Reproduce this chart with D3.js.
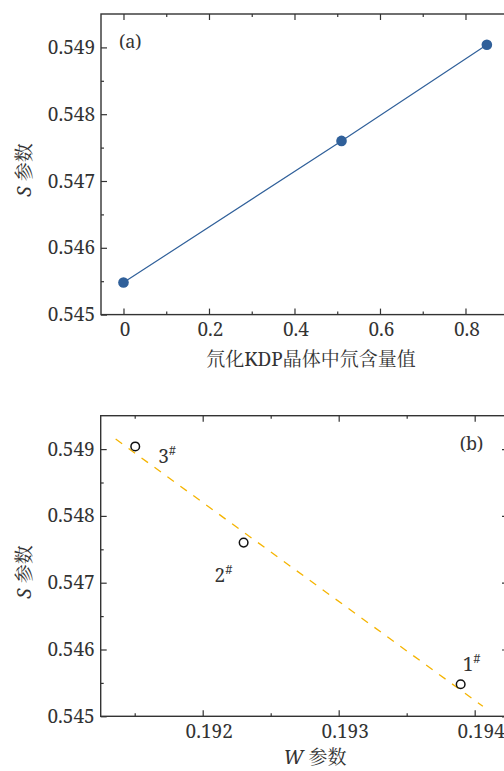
<!DOCTYPE html>
<html>
<head>
<meta charset="utf-8">
<script src="https://cdn.jsdelivr.net/npm/d3@7"></script>
<style>
  body { margin: 0; background: #fff; }
  svg { display: block; }
  text { fill: #333; font-family: "Noto Serif", "Noto Serif CJK SC", serif; }
  .cjk { font-family: "Noto Serif CJK SC", "Noto Sans CJK SC", serif; }
</style>
</head>
<body>
<svg id="chart" width="504" height="771"></svg>
<script>
// panel (a): deuterium content vs S parameter
var contentVals = [0, 0.51, 0.85];
var sVals = [0.54548, 0.54760, 0.54904];

// panel (b): W parameter vs S parameter, sample labels
var wVals = [0.193897, 0.192301, 0.191504];
var sampleNames = ["1", "2", "3"];

// fitted line end points in panel (b)
var fitW = [0.19136, 0.19406];
var fitS = [0.54915, 0.54515];

var yTicks = [0.545, 0.546, 0.547, 0.548, 0.549];
var yMinor = [0.5455, 0.5465, 0.5475, 0.5485];
var xTicksA = [0, 0.2, 0.4, 0.6, 0.8];
var xMinorA = [0.1, 0.3, 0.5, 0.7, 0.9];
var xTicksB = [0.192, 0.193, 0.194];
var xMinorB = [0.1915, 0.1925, 0.1935];

var svg = d3.select("#chart");
var axisColor = "#333";
var serif = "'Noto Serif', serif";

// draws frame + inward ticks for one panel
function frame(g, x, y, xMajor, xMinor, yMajor, yMinor, xFmt, xdx) {
  var w = x.range()[1] - x.range()[0],
      h = y.range()[0] - y.range()[1];

  // bottom
  g.append("g").attr("transform", "translate(0," + h + ")")
    .call(d3.axisBottom(x).tickValues(xMajor).tickSizeInner(-6).tickSizeOuter(0).tickPadding(8).tickFormat(xFmt))
    .call(function(a) { a.selectAll("text").attr("dx", xdx); });
  g.append("g").attr("transform", "translate(0," + h + ")")
    .call(d3.axisBottom(x).tickValues(xMinor).tickSizeInner(-3).tickSizeOuter(0).tickFormat(""));
  // top
  g.append("g")
    .call(d3.axisTop(x).tickValues(xMajor).tickSizeInner(-6).tickSizeOuter(0).tickFormat(""));
  g.append("g")
    .call(d3.axisTop(x).tickValues(xMinor).tickSizeInner(-3).tickSizeOuter(0).tickFormat(""));
  // left
  g.append("g")
    .call(d3.axisLeft(y).tickValues(yMajor).tickSizeInner(-6).tickSizeOuter(0).tickPadding(6).tickFormat(d3.format(".3f")));
  g.append("g")
    .call(d3.axisLeft(y).tickValues(yMinor).tickSizeInner(-3).tickSizeOuter(0).tickFormat(""));
  // right
  g.append("g").attr("transform", "translate(" + w + ",0)")
    .call(d3.axisRight(y).tickValues(yMajor).tickSizeInner(-6).tickSizeOuter(0).tickFormat(""));
  g.append("g").attr("transform", "translate(" + w + ",0)")
    .call(d3.axisRight(y).tickValues(yMinor).tickSizeInner(-3).tickSizeOuter(0).tickFormat(""));

  g.selectAll(".domain").remove();
  g.selectAll("g").attr("font-family", serif);
  g.selectAll(".tick line").attr("stroke", axisColor).attr("stroke-width", 1.2);
  g.selectAll(".tick text").attr("font-size", 19).attr("fill", "#444")
    .style("font-family", serif);

  g.append("rect")
    .attr("width", w).attr("height", h)
    .attr("fill", "none").attr("stroke", axisColor).attr("stroke-width", 1.4);
}

/*************** panel (a) ***************/
var xA = d3.scaleLinear().domain([-0.0526, 0.9474]).range([0, 427.5]);
var yA = d3.scaleLinear().domain([0.545, 0.5495]).range([300.6, 0]);
var gA = svg.append("g").attr("transform", "translate(101,14)");

frame(gA, xA, yA, xTicksA, xMinorA, yTicks, yMinor,
      function(d) { return d === 0 ? "0" : d3.format(".1f")(d); }, 1);

var ptsA = contentVals.map(function(v, i) { return [v, sVals[i]]; });
gA.append("path")
  .datum(ptsA)
  .attr("fill", "none")
  .attr("stroke", "#30609a")
  .attr("stroke-width", 1.2)
  .attr("d", d3.line().x(function(d) { return xA(d[0]); }).y(function(d) { return yA(d[1]); }));
gA.selectAll("circle.pt").data(ptsA).enter().append("circle")
  .attr("class", "pt")
  .attr("cx", function(d) { return xA(d[0]); })
  .attr("cy", function(d) { return yA(d[1]); })
  .attr("r", 5.3)
  .attr("fill", "#30609a");

gA.append("text").attr("x", 18).attr("y", 34).attr("font-size", 18).attr("fill", "#444").text("(a)");

var xLabA = svg.append("text")
  .attr("x", 311).attr("y", 366)
  .attr("text-anchor", "middle")
  .attr("font-size", 19);
xLabA.append("tspan").attr("class", "cjk").text("氘化");
xLabA.append("tspan").text("KDP");
xLabA.append("tspan").attr("class", "cjk").text("晶体中氘含量值");

function sLabel(cy) {
  var t = svg.append("text")
    .attr("transform", "translate(31," + cy + ") rotate(-90)")
    .attr("text-anchor", "middle")
    .attr("font-size", 19);
  t.append("tspan").attr("font-style", "italic").text("S ");
  t.append("tspan").attr("class", "cjk").text("参数");
}
sLabel(170);

/*************** panel (b) ***************/
var xB = d3.scaleLinear().domain([0.19125, 0.194245]).range([0, 407.3]);
var yB = d3.scaleLinear().domain([0.545, 0.5495]).range([300.6, 0]);
var gB = svg.append("g").attr("transform", "translate(100.7,415.7)");

frame(gB, xB, yB, xTicksB, xMinorB, yTicks, yMinor, d3.format(".3f"), 6);

gB.append("path")
  .datum(fitW.map(function(v, i) { return [v, fitS[i]]; }))
  .attr("fill", "none")
  .attr("stroke", "#f5b400")
  .attr("stroke-width", 1.3)
  .attr("stroke-dasharray", "8,8")
  .attr("d", d3.line().x(function(d) { return xB(d[0]); }).y(function(d) { return yB(d[1]); }));

var ptsB = wVals.map(function(v, i) { return { w: v, s: sVals[i], name: sampleNames[i] }; });
gB.selectAll("circle.pt").data(ptsB).enter().append("circle")
  .attr("class", "pt")
  .attr("cx", function(d) { return xB(d.w); })
  .attr("cy", function(d) { return yB(d.s); })
  .attr("r", 4.3)
  .attr("fill", "#fff")
  .attr("stroke", "#111")
  .attr("stroke-width", 1.5);

// label placement relative to each point
var labelOffset = { "1": [2, -13], "2": [-29, 39], "3": [23, 17] };
var lab = gB.selectAll("text.lab").data(ptsB).enter().append("text")
  .attr("class", "lab")
  .attr("x", function(d) { return xB(d.w) + labelOffset[d.name][0]; })
  .attr("y", function(d) { return yB(d.s) + labelOffset[d.name][1]; })
  .attr("font-size", 19)
  .attr("fill", "#444");
lab.append("tspan").text(function(d) { return d.name; });
lab.append("tspan").attr("font-size", 13).attr("dy", -8).text("#");

gB.append("text").attr("x", 359).attr("y", 34).attr("font-size", 18).attr("fill", "#444").text("(b)");

var xLabB = svg.append("text")
  .attr("x", 315).attr("y", 764)
  .attr("text-anchor", "middle")
  .attr("font-size", 19);
xLabB.append("tspan").attr("font-style", "italic").text("W ");
xLabB.append("tspan").attr("class", "cjk").text("参数");

sLabel(572);
</script>
</body>
</html>
